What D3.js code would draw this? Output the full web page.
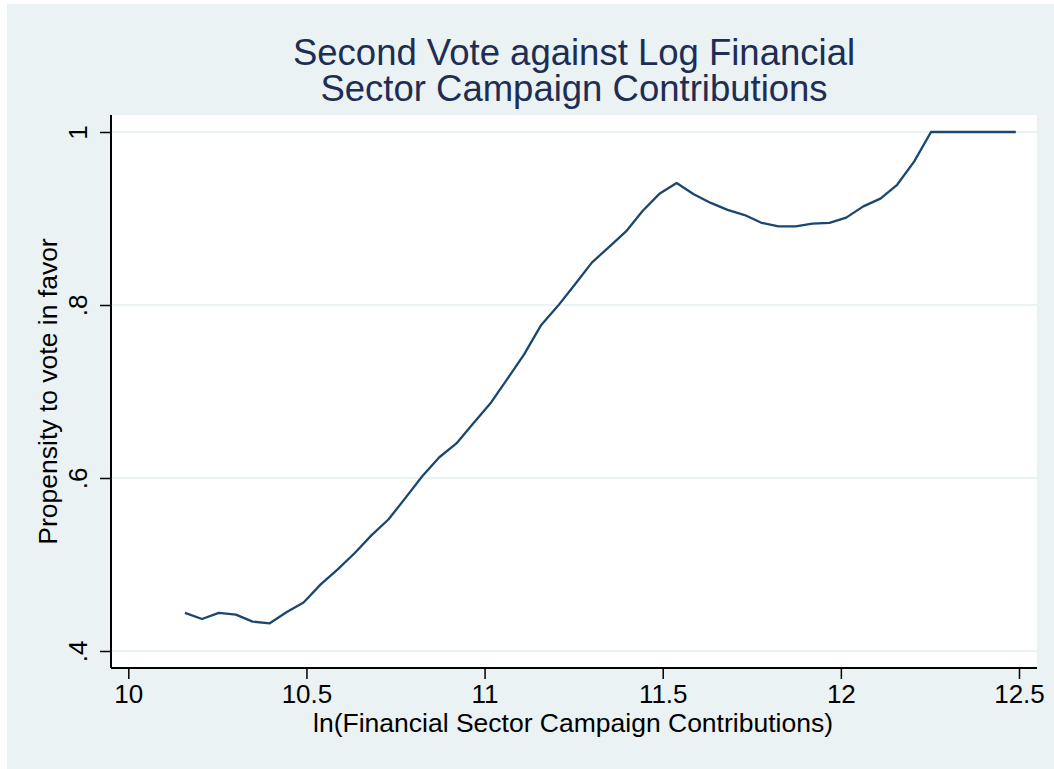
<!DOCTYPE html>
<html>
<head>
<meta charset="utf-8">
<script src="https://cdn.jsdelivr.net/npm/d3@7"></script>
<style>
  body { margin: 0; background: #fff; }
  text { font-family: "Liberation Sans", Arial, Helvetica, sans-serif; }
</style>
</head>
<body>
<script>
// log financial sector contributions (x) and smoothed propensity (y)
var lnContrib = [10.159, 10.207, 10.254, 10.302, 10.349, 10.397, 10.445, 10.492, 10.540, 10.587,
                 10.635, 10.683, 10.730, 10.778, 10.825, 10.873, 10.921, 10.968, 11.016, 11.063,
                 11.111, 11.159, 11.206, 11.254, 11.301, 11.349, 11.397, 11.444, 11.492, 11.539,
                 11.587, 11.635, 11.682, 11.730, 11.777, 11.825, 11.873, 11.920, 11.968, 12.015,
                 12.063, 12.111, 12.158, 12.206, 12.253, 12.301, 12.349, 12.396, 12.444, 12.491];
var propensity = [0.444, 0.437, 0.444, 0.442, 0.434, 0.432, 0.445, 0.456, 0.477, 0.494,
                  0.513, 0.534, 0.552, 0.577, 0.602, 0.624, 0.640, 0.663, 0.686, 0.714,
                  0.743, 0.777, 0.799, 0.824, 0.849, 0.867, 0.885, 0.909, 0.929, 0.941,
                  0.928, 0.918, 0.910, 0.904, 0.895, 0.891, 0.891, 0.894, 0.895, 0.901,
                  0.914, 0.923, 0.939, 0.966, 1.000, 1.000, 1.000, 1.000, 1.000, 1.000];

var xTicks = [10, 10.5, 11, 11.5, 12, 12.5];
var xTickLabels = ["10", "10.5", "11", "11.5", "12", "12.5"];
var yTicks = [0.4, 0.6, 0.8, 1];
var yTickLabels = [".4", ".6", ".8", "1"];

var titleLines = ["Second Vote against Log Financial", "Sector Campaign Contributions"];
var xTitle = "ln(Financial Sector Campaign Contributions)";
var yTitle = "Propensity to vote in favor";

var W = 1054, H = 769;
// plot region
var plot = {left: 111, top: 115, right: 1037, bottom: 668};

var data = lnContrib.map(function(d, i) { return {x: d, y: propensity[i]}; });

var svg = d3.select("body").append("svg")
    .attr("width", W)
    .attr("height", H);

// outer graph region
svg.append("rect")
    .attr("x", 7).attr("y", 4)
    .attr("width", W - 7).attr("height", H - 4)
    .style("fill", "#eaf2f3");

// inner plot region
svg.append("rect")
    .attr("x", plot.left).attr("y", plot.top)
    .attr("width", plot.right - plot.left)
    .attr("height", plot.bottom - plot.top)
    .style("fill", "#ffffff");

var x = d3.scaleLinear().domain([10, 12.5]).range([128.3, 1019]);
var y = d3.scaleLinear().domain([0.4, 1]).range([651, 132]);

// gridlines
svg.append("g").selectAll("line")
    .data(yTicks)
    .enter().append("line")
    .attr("x1", plot.left).attr("x2", plot.right)
    .attr("y1", function(d) { return y(d); })
    .attr("y2", function(d) { return y(d); })
    .style("stroke", "#eaf2f3")
    .style("stroke-width", 2);

// the line
var line = d3.line()
    .x(function(d) { return x(d.x); })
    .y(function(d) { return y(d.y); });

svg.append("path")
    .datum(data)
    .style("fill", "none")
    .style("stroke", "#1a476f")
    .style("stroke-width", 2.3)
    .style("stroke-linejoin", "round")
    .attr("d", line);

// x axis
var xAxis = svg.append("g")
    .attr("transform", "translate(0," + plot.bottom + ")")
    .call(d3.axisBottom(x)
        .tickValues(xTicks)
        .tickFormat(function(d, i) { return xTickLabels[i]; })
        .tickSize(11)
        .tickPadding(6));
xAxis.select(".domain").remove();
xAxis.selectAll(".tick line").style("stroke", "#000").style("stroke-width", 1.5);
xAxis.selectAll(".tick text")
    .style("font-family", "'Liberation Sans', Arial, sans-serif")
    .style("font-size", "26px")
    .style("fill", "#000");
xAxis.append("line")
    .attr("x1", plot.left).attr("x2", plot.right)
    .attr("y1", 0).attr("y2", 0)
    .style("stroke", "#000").style("stroke-width", 2);

// y axis
var yAxis = svg.append("g")
    .attr("transform", "translate(" + plot.left + ",0)")
    .call(d3.axisLeft(y)
        .tickValues(yTicks)
        .tickFormat(function(d, i) { return yTickLabels[i]; })
        .tickSize(11)
        .tickPadding(0));
yAxis.select(".domain").remove();
yAxis.selectAll(".tick line").style("stroke", "#000").style("stroke-width", 1.5);
yAxis.selectAll(".tick text")
    .attr("x", null).attr("dy", null)
    .attr("transform", "translate(-24,0) rotate(-90)")
    .style("text-anchor", "middle")
    .style("font-family", "'Liberation Sans', Arial, sans-serif")
    .style("font-size", "26px")
    .style("fill", "#000");
yAxis.append("line")
    .attr("x1", 0).attr("x2", 0)
    .attr("y1", plot.top).attr("y2", plot.bottom)
    .style("stroke", "#000").style("stroke-width", 2);

// titles
svg.append("g").selectAll("text")
    .data(titleLines)
    .enter().append("text")
    .attr("x", 574)
    .attr("y", function(d, i) { return 65 + i * 36; })
    .style("text-anchor", "middle")
    .style("font-size", "36.5px")
    .style("fill", "#1e2d53")
    .text(function(d) { return d; });

svg.append("text")
    .attr("x", 573)
    .attr("y", 732)
    .style("text-anchor", "middle")
    .style("font-size", "26.5px")
    .style("fill", "#000")
    .text(xTitle);

svg.append("text")
    .attr("transform", "translate(57," + ((plot.top + plot.bottom) / 2) + ") rotate(-90)")
    .style("text-anchor", "middle")
    .style("font-size", "26.5px")
    .style("fill", "#000")
    .text(yTitle);
</script>
</body>
</html>
